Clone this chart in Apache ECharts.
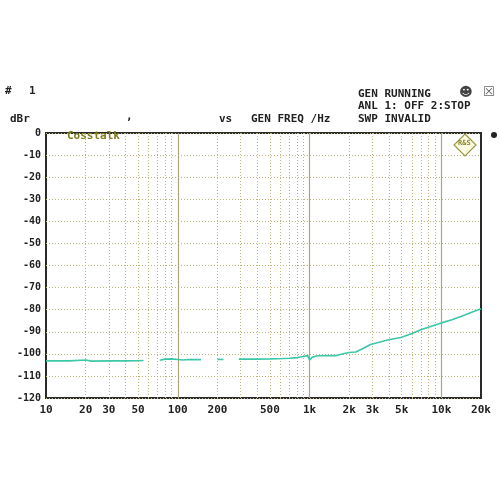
<!DOCTYPE html>
<html>
<head>
<meta charset="utf-8">
<script src="https://cdn.jsdelivr.net/npm/echarts@6/dist/echarts.min.js"></script>
<style>
html,body{margin:0;padding:0;background:#fff;}
#c{width:500px;height:500px;}
</style>
</head>
<body>
<div id="c"></div>
<script>
// ---- data ----
const freqHz = [10, 15, 20, 22, 30, 40, 50, 55, 62,
  73, 80, 90, 100, 110, 120, 150, 170,
  200, 222, 250,
  290, 400, 500, 634, 700, 811, 900, 967, 1000, 1050, 1148, 1300, 1600, 1800, 2000, 2240, 2500, 2900, 3500, 3900, 4920, 6000, 6980, 8500, 9910, 12000, 14060, 17000, 20000];
const crosstalkDb = [-103.2, -103.2, -102.8, -103.3, -103.2, -103.2, -103.1, -103.0, null,
  -102.9, -102.4, -102.3, -102.6, -102.8, -102.6, -102.6, null,
  -102.5, -102.6, null,
  -102.4, -102.4, -102.3, -102.1, -102.0, -101.7, -101.2, -100.8, -102.8, -101.5, -100.9, -100.8, -100.8, -100.0, -99.4, -99.2, -97.8, -95.8, -94.5, -93.7, -92.6, -90.8, -89.1, -87.4, -86.1, -84.6, -83.1, -81.2, -79.6];
const xLabelHz = [10, 20, 30, 50, 100, 200, 500, 1000, 2000, 3000, 5000, 10000, 20000];
const xMajorHz = [100, 1000, 10000];
const xMinorHz = [20, 30, 40, 50, 60, 70, 80, 90, 200, 300, 400, 500, 600, 700, 800, 900,
  2000, 3000, 4000, 5000, 6000, 7000, 8000, 9000];
const yMin = -120, yMax = 0, yStep = 10;

const fMin = 10, fMax = 20000;
const lg = v => Math.log10(v);
function fmtHz(v) {
  const f = Math.round(Math.pow(10, v));
  return f >= 1000 ? (f / 1000) + 'k' : String(f);
}

const mono = '"DejaVu Sans Mono", "Liberation Mono", monospace';
const chart = echarts.init(document.getElementById('c'), null, {renderer: 'canvas'});
const txt = (left, top, text, extra) => ({
  type: 'text', left, top, z: 100,
  style: Object.assign({text, font: 'bold 11px ' + mono, fill: '#222'}, extra || {})
});

chart.setOption({
  animation: false,
  backgroundColor: '#ffffff',
  grid: {left: 46, right: 19, top: 133, bottom: 102, show: true,
    borderColor: '#2a2a2a', borderWidth: 2, backgroundColor: '#ffffff'},
  xAxis: [{
    type: 'value', min: lg(fMin), max: lg(fMax),
    axisLine: {show: false},
    axisTick: {show: false, customValues: xMajorHz.map(lg)},
    axisLabel: {customValues: xLabelHz.map(lg), formatter: fmtHz,
      fontFamily: mono, fontWeight: 'bold', fontSize: 11, color: '#222', margin: 7,
      showMinLabel: true, showMaxLabel: true},
    splitLine: {show: true, lineStyle: {color: '#aaa67e', width: 1.2, type: 'solid'}}
  }, {
    type: 'value', min: lg(fMin), max: lg(fMax),
    axisLine: {show: false},
    axisTick: {show: false, customValues: xMinorHz.map(lg)},
    axisLabel: {show: false},
    splitLine: {show: true, lineStyle: {color: '#bdb57a', width: 1, type: [1, 2]}}
  }],
  yAxis: {
    type: 'value', min: yMin, max: yMax, interval: yStep,
    axisLine: {show: false}, axisTick: {show: false},
    axisLabel: {fontFamily: mono, fontWeight: 'bold', fontSize: 10, color: '#222', margin: 5},
    splitLine: {show: true, lineStyle: {color: '#bdb57a', width: 1, type: [1, 2]}}
  },
  series: [{
    type: 'line', xAxisIndex: 0,
    data: freqHz.map((f, i) => [lg(f), crosstalkDb[i]]),
    showSymbol: false, connectNulls: false,
    lineStyle: {color: '#3cc8a8', width: 1.6},
    itemStyle: {color: '#3cc8a8'}
  }],
  graphic: [
    txt(5, 86, '#'),
    txt(29, 86, '1'),
    txt(10, 114, 'dBr'),
    txt(126, 112, ','),
    txt(219, 114, 'vs'),
    txt(251, 114, 'GEN FREQ /Hz'),
    txt(358, 89, 'GEN RUNNING'),
    txt(358, 101, 'ANL 1: OFF 2:STOP'),
    txt(358, 114, 'SWP INVALID'),
    txt(67, 131, 'Cosstalk', {fill: '#7f7d1e'}),
    {type: 'text', left: 459, top: 86, z: 100, style: {text: '☻', font: '13px "DejaVu Sans"', fill: '#444'}},
    {type: 'text', left: 483, top: 86, z: 100, style: {text: '☒', font: '13px "DejaVu Sans"', fill: '#666'}},
    {type: 'circle', z: 100, shape: {cx: 494, cy: 135, r: 3}, style: {fill: '#222'}},
    {type: 'polygon', z: 100, shape: {points: [[465, 134], [476, 145], [465, 156], [454, 145]]},
      style: {fill: '#fbfbe2', stroke: '#9a9840', lineWidth: 1.2}},
    {type: 'text', left: 458, top: 140, z: 101, style: {text: 'R&S', font: 'bold 7px ' + mono, fill: '#8a882c'}}
  ]
});
</script>
</body>
</html>
